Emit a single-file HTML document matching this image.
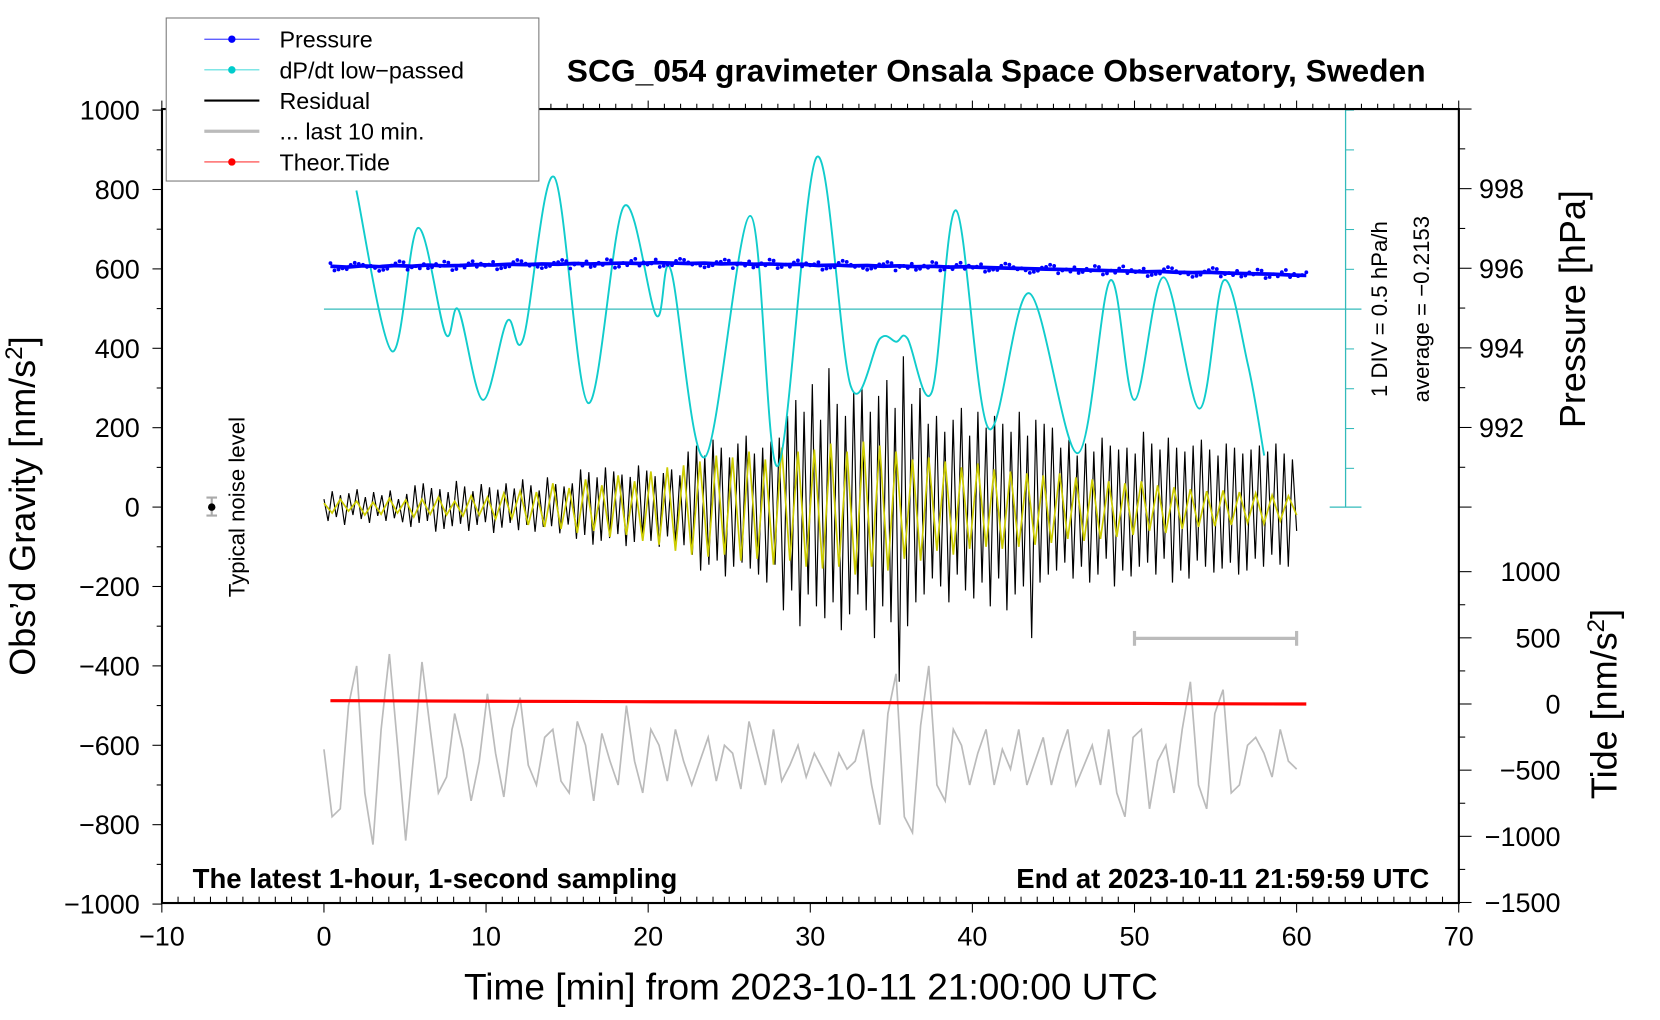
<!DOCTYPE html>
<html><head><meta charset="utf-8"><style>
html,body{margin:0;padding:0;background:#fff;}
svg{display:block;font-family:"Liberation Sans",sans-serif;}
</style></head><body>
<svg id="chart" width="1660" height="1020" viewBox="0 0 1568 963.5" preserveAspectRatio="none" xmlns="http://www.w3.org/2000/svg">
<rect width="1568" height="963.5" fill="#fff"/>
<g id="marks"></g>
<g id="axes"></g>
<text x="941" y="77" font-size="30" font-weight="bold" text-anchor="middle">SCG_054 gravimeter Onsala Space Observatory, Sweden</text>
<text x="182" y="839" font-size="26" font-weight="bold">The latest 1-hour, 1-second sampling</text>
<text x="1350" y="839" font-size="26" font-weight="bold" text-anchor="end">End at 2023-10-11 21:59:59 UTC</text>
<text x="766" y="944" font-size="35" text-anchor="middle">Time [min] from 2023-10-11 21:00:00 UTC</text>
<text transform="translate(33,478) rotate(-90)" font-size="34" text-anchor="middle">Obs’d Gravity [nm/s<tspan font-size="23" dy="-12">2</tspan><tspan dy="12">]</tspan></text>
<text transform="translate(1497,292) rotate(-90)" font-size="34" text-anchor="middle">Pressure [hPa]</text>
<text transform="translate(1527,665) rotate(-90)" font-size="34" text-anchor="middle">Tide [nm/s<tspan font-size="23" dy="-12">2</tspan><tspan dy="12">]</tspan></text>
<text transform="translate(1310,292) rotate(-90)" font-size="21" text-anchor="middle">1 DIV = 0.5 hPa/h</text>
<text transform="translate(1350,292) rotate(-90)" font-size="21" text-anchor="middle">average = −0.2153</text>
<text transform="translate(231,479) rotate(-90)" font-size="21" text-anchor="middle">Typical noise level</text>
<g>
<rect x="157" y="17" width="352" height="154" fill="#fff" stroke="#777" stroke-width="1"/>
<g><line x1="193" y1="37" x2="245" y2="37" stroke="#00f" stroke-width="0.8"/><circle cx="219" cy="37" r="3.5" fill="#00f"/><text x="264" y="45" font-size="22">Pressure</text></g>
<g><line x1="193" y1="66" x2="245" y2="66" stroke="#0cc" stroke-width="0.8"/><circle cx="219" cy="66" r="3.5" fill="#0cc"/><text x="264" y="74" font-size="22">dP/dt low−passed</text></g>
<g><line x1="193" y1="95" x2="245" y2="95" stroke="#000" stroke-width="2"/><text x="264" y="103" font-size="22">Residual</text></g>
<g><line x1="193" y1="124" x2="245" y2="124" stroke="#bbb" stroke-width="3"/><text x="264" y="132" font-size="22">... last 10 min.</text></g>
<g><line x1="193" y1="153" x2="245" y2="153" stroke="#f00" stroke-width="0.8"/><circle cx="219" cy="153" r="3.5" fill="#f00"/><text x="264" y="161" font-size="22">Theor.Tide</text></g>
</g>
</svg>
<script>
// ---- data ----
const pressureHPa = [996.05,996.03,996.06,996.04,996.07,996.05,996.08,996.06,996.07,996.09,996.08,996.1,996.09,996.11,996.1,996.12,996.11,996.12,996.13,996.12,996.14,996.13,996.12,996.13,996.11,996.12,996.1,996.11,996.09,996.1,996.07,996.08,996.06,996.07,996.05,996.06,996.04,996.05,996.03,996.04,996.02,996.01,996.0,995.99,995.98,995.97,995.96,995.95,995.94,995.93,995.91,995.92,995.9,995.89,995.9,995.88,995.87,995.86,995.85,995.83,995.82];
const dpdtTimes = [2,4.2,5.8,7.5,8.3,9.8,11.3,12.3,14.2,16.3,18.5,20.5,21.4,23.5,26.3,28,30.4,32.5,34.3,35.3,36,37.5,39,41,43.5,46.5,48.5,50,51.8,54,55.5,57,58];
const dpdtValues = [1.49,-0.53,1.02,-0.31,-0.01,-1.14,-0.15,-0.37,1.66,-1.18,1.29,-0.08,0.49,-1.86,1.17,-1.97,1.91,-0.97,-0.37,-0.41,-0.37,-1.04,1.24,-1.5,0.2,-1.81,0.36,-1.14,0.4,-1.25,0.36,-0.7,-1.84];
const residual = [20,-35,40,-25,30,-45,35,-20,45,-30,25,-40,38,-22,30,-35,42,-28,20,-38,33,
-50,55,-40,60,-35,48,-62,45,-55,38,-48,66,-42,52,-60,40,-45,58,-38,50,-65,44,-52,60,-40,47,-58,70,-45,55,-62,42,-50,75,-48,58,-66,52,-44,60,
-80,95,-70,88,-95,75,-85,100,-78,90,-68,82,-98,76,-88,105,-72,92,-85,78,-100,86,-74,95,-90,80,-96,
140,-120,155,-160,130,-145,170,-135,150,-175,125,-150,160,-140,180,-155,135,-170,150,-190,165,-145,175,
-260,230,-210,270,-300,240,-220,310,-250,220,-280,350,-240,260,-310,230,-270,290,-220,300,-260,240,-330,280,-250,320,-290,250,-440,380,-300,260,-240,300,-220,
210,-180,230,-200,190,-240,220,-170,250,-210,180,-230,240,-190,200,-250,230,-180,210,-260,190,-220,240,-200,180,-330,220,-190,210,-170,200,
-160,150,-140,170,-180,130,-150,160,-190,140,-170,175,-130,155,-200,145,-160,150,-175,135,-150,190,-140,160,-170,145,-130,175,-190,150,-160,140,-180,155,-135,170,-150,145,-165,130,-155,160,-140,150,-170,135,-160,145,-130,155,-150,140,-120,160,-145,135,-150,120,-60];
const filtered = [10,-15,20,-10,15,-20,12,-18,22,-15,18,-25,20,-18,25,-20,15,-22,28,-20,
25,-30,35,-28,40,-45,38,-50,60,-55,48,-65,70,-60,55,-75,80,-70,65,-85,
90,-95,100,-110,105,-120,115,-125,130,-120,125,-135,140,-130,120,-145,150,-135,140,-150,
145,-155,160,-150,140,-170,165,-150,155,-160,140,-130,120,-135,125,-110,115,-120,100,-105,
110,-100,95,-105,90,-100,85,-95,80,-90,85,-80,75,-85,70,-80,65,-75,60,-70,
65,-60,55,-65,50,-55,45,-50,40,-48,42,-45,38,-40,35,-42,30,-35,28,-20];
const last10 = [-610,-780,-760,-500,-400,-720,-850,-560,-370,-600,-840,-620,-390,-560,-720,-680,-520,-610,-740,-640,-470,-620,-730,-560,-480,-650,-700,-580,-560,-690,-720,-540,-600,-740,-570,-640,-700,-500,-640,-720,-560,-600,-690,-560,-640,-700,-640,-580,-690,-600,-620,-710,-540,-620,-700,-560,-690,-650,-600,-680,-620,-660,-700,-620,-660,-640,-560,-700,-800,-520,-420,-780,-820,-550,-400,-700,-740,-560,-600,-700,-620,-560,-700,-610,-660,-560,-700,-640,-580,-700,-620,-560,-700,-650,-600,-700,-560,-720,-780,-580,-560,-760,-640,-600,-720,-560,-440,-700,-760,-520,-460,-720,-700,-600,-580,-620,-680,-560,-640,-660];
const tideValues = [25,23,21,19,17,15,12,10,8,6,4,2,0];
const xTicks = [-10,0,10,20,30,40,50,60,70];
const gravityTicks = [1000,800,600,400,200,0,-200,-400,-600,-800,-1000];
const pressureTicks = [998,996,994,992];
const tideTicks = [1000,500,0,-500,-1000,-1500];

// ---- scales ----
const xs = t => 306 + t*15.3125;
const yg = v => 479 - v*0.375;
const yp = p => 479 - (p-990)*37.6;
const yt = v => 665 - v*0.125;
const yd = d => 292 - d/0.5*37.6;
const NS = 'http://www.w3.org/2000/svg';
const marks = document.getElementById('marks');
const axes = document.getElementById('axes');
function mk(tag, attrs, parent){const e=document.createElementNS(NS,tag);for(const k in attrs)e.setAttribute(k,attrs[k]);parent.appendChild(e);return e;}
function series(arr, t0, t1, yf){return arr.map((v,i)=>[xs(t0+(t1-t0)*i/(arr.length-1)), yf(v)]);}
function poly(pts){return pts.map(p=>p[0].toFixed(1)+','+p[1].toFixed(1)).join(' ');}

let l = mk('line',{x1:306,y1:292,x2:1286,y2:292,stroke:'#3bb',"stroke-width":1.2},marks);


const dax = mk('g',{},marks);


mk('line',{x1:1271,y1:103,x2:1271,y2:479,stroke:'#3bb',"stroke-width":1.2},dax);
mk('line',{x1:1256,y1:103,x2:1286,y2:103,stroke:'#3bb',"stroke-width":1.2},dax);
mk('line',{x1:1256,y1:479,x2:1286,y2:479,stroke:'#3bb',"stroke-width":1.2},dax);
for(let k=-5;k<=5;k++){ if(k===0) continue; const y=yd(k*0.5); if(y<103||y>479) continue; mk('line',{x1:1271,y1:y,x2:1279,y2:y,stroke:'#3bb',"stroke-width":1},dax);}

let g = mk('polyline',{points:poly(series(last10,0,60,yg)),fill:'none',stroke:'#bbb',"stroke-width":1.6},marks);



let r = mk('polyline',{points:poly(series(residual,0,60,yg)),fill:'none',stroke:'#000',"stroke-width":1.1},marks);


let f = mk('polyline',{points:poly(series(filtered,0,60,yg)),fill:'none',stroke:'#cc0',"stroke-width":1.6},marks);



const dp = dpdtTimes.map((t,i)=>[xs(t), yd(dpdtValues[i])]);
let d = 'M'+dp[0][0]+','+dp[0][1];
for(let i=0;i<dp.length-1;i++){
  const p0=dp[Math.max(0,i-1)],p1=dp[i],p2=dp[i+1],p3=dp[Math.min(dp.length-1,i+2)];
  const c1=[p1[0]+(p2[0]-p0[0])/6,p1[1]+(p2[1]-p0[1])/6], c2=[p2[0]-(p3[0]-p1[0])/6,p2[1]-(p3[1]-p1[1])/6];
  d+=' C'+c1.join(',')+' '+c2.join(',')+' '+p2.join(',');
}
let dc = mk('path',{d:d,fill:'none',stroke:'#1cc',"stroke-width":1.8},marks);



const pp = series(pressureHPa,0.4,60.6,yp);
let pl = mk('polyline',{points:poly(pp),fill:'none',stroke:'#00f',"stroke-width":3.5},marks);


const jit = [-3,2,-1,4,-2,1,3,-4,0,2];
pp.forEach((p,i)=>{
  const n = (i===pp.length-1)?1:4;
  for(let k=0;k<n;k++){
    const c = mk('circle',{cx:p[0]+k*3.8,cy:p[1]+jit[(i+k*3)%10],r:1.8,fill:'#00f'},marks);
    
    
  }
});

let tl = mk('polyline',{points:poly(series(tideValues,0.4,60.6,yt)),fill:'none',stroke:'#f00',"stroke-width":3},marks);



const sb = mk('g',{stroke:'#bbb',"stroke-width":3},marks);


mk('line',{x1:xs(50),y1:603,x2:xs(60),y2:603},sb);
mk('line',{x1:xs(50),y1:596,x2:xs(50),y2:610},sb);
mk('line',{x1:xs(60),y1:596,x2:xs(60),y2:610},sb);

const nl = mk('g',{},marks);


mk('line',{x1:200,y1:470,x2:200,y2:487,stroke:'#aaa',"stroke-width":2},nl);
mk('line',{x1:195,y1:470,x2:205,y2:470,stroke:'#aaa',"stroke-width":2},nl);
mk('line',{x1:195,y1:487,x2:205,y2:487,stroke:'#aaa',"stroke-width":2},nl);
mk('circle',{cx:200,cy:479,r:3.5,fill:'#000'},nl);

const frame = mk('rect',{x:153,y:103,width:1225,height:750,fill:'none',stroke:'#000',"stroke-width":2},axes);


for(let t=-10;t<=70;t++){
  const x=xs(t); const major=t%10===0;
  mk('line',{x1:x,y1:853,x2:x,y2:major?862:847,stroke:'#000',"stroke-width":1},axes);
  mk('line',{x1:x,y1:103,x2:x,y2:major?95:98,stroke:'#000',"stroke-width":1},axes);
}
xTicks.forEach(t=>{
  const tx = mk('text',{x:xs(t),y:893,"font-size":25.5,"text-anchor":"middle"},axes);
  tx.textContent = t<0 ? '−'+Math.abs(t) : String(t);
  
  
});
for(let v=-1000;v<=1000;v+=100){ const y=yg(v); mk('line',{x1:153,y1:y,x2:v%200===0?144:148,y2:y,stroke:'#000',"stroke-width":1},axes);}
gravityTicks.forEach(v=>{
  const tx = mk('text',{x:132,y:yg(v)+9,"font-size":25.5,"text-anchor":"end"},axes);
  tx.textContent = v<0 ? '−'+Math.abs(v) : String(v);
  
  
});
for(let p=990;p<=1000;p++){ const y=yp(p); mk('line',{x1:1378,y1:y,x2:p%2===0?1390:1384,y2:y,stroke:'#000',"stroke-width":1},axes);}
pressureTicks.forEach(p=>{
  const tx = mk('text',{x:1397,y:yp(p)+9,"font-size":25.5},axes);
  tx.textContent = String(p);
  
  
});
for(let v=-1500;v<=1000;v+=250){ const y=yt(v); mk('line',{x1:1378,y1:y,x2:v%500===0?1390:1384,y2:y,stroke:'#000',"stroke-width":1},axes);}
tideTicks.forEach(v=>{
  const tx = mk('text',{x:1474,y:yt(v)+9,"font-size":25.5,"text-anchor":"end"},axes);
  tx.textContent = v<0 ? '−'+Math.abs(v) : String(v);
  
  
});
</script>
</body></html>
